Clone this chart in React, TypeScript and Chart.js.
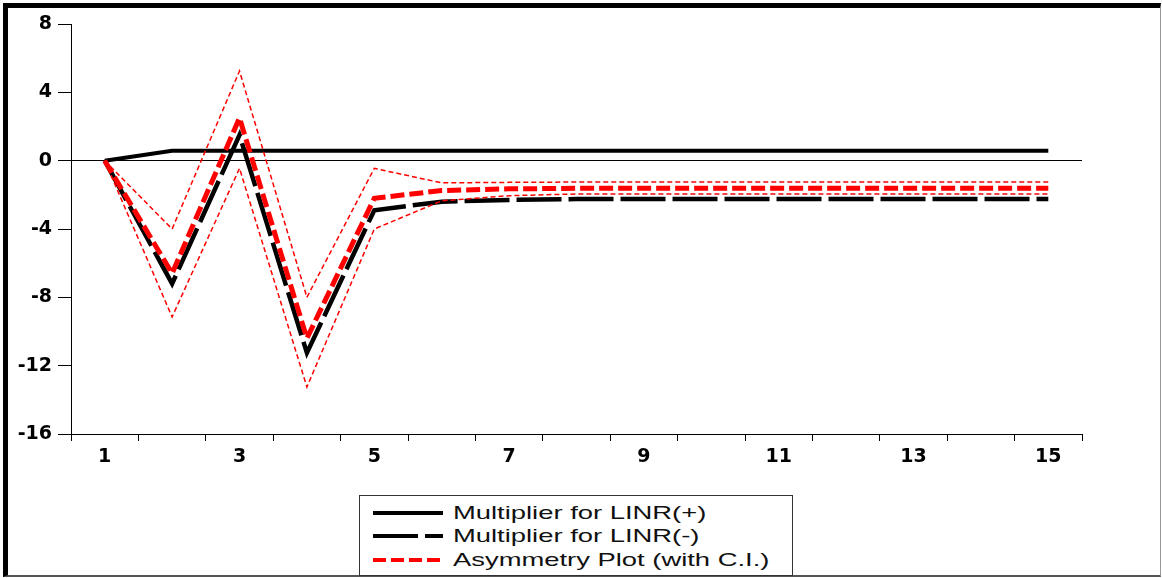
import React, { useEffect, useRef } from "react";
import { Chart, registerables } from "chart.js";

Chart.register(...registerables);

const periods = ["1", "2", "3", "4", "5", "6", "7", "8", "9", "10", "11", "12", "13", "14", "15"];
const multiplierPos = [0, 0.58, 0.58, 0.58, 0.58, 0.58, 0.58, 0.58, 0.58, 0.58, 0.58, 0.58, 0.58, 0.58, 0.58];
const multiplierNeg = [0, -7.2, 1.5, -11.25, -2.9, -2.4, -2.3, -2.25, -2.25, -2.25, -2.25, -2.25, -2.25, -2.25, -2.25];
const asymmetry = [0, -6.6, 2.5, -10.4, -2.2, -1.75, -1.65, -1.62, -1.62, -1.62, -1.62, -1.62, -1.62, -1.62, -1.62];
const upperCI = [0, -4.0, 5.25, -8.0, -0.45, -1.3, -1.27, -1.25, -1.25, -1.25, -1.25, -1.25, -1.25, -1.25, -1.25];
const lowerCI = [0, -9.15, -0.45, -13.25, -4.0, -2.35, -2.05, -1.95, -1.95, -1.95, -1.95, -1.95, -1.95, -1.95, -1.95];
const yMin = -16;
const yMax = 8;
const yStep = 4;

const legendItems = [
  { label: "Multiplier for LINR(+)", color: "#000", dash: "", width: 4 },
  { label: "Multiplier for LINR(-)", color: "#000", dash: "45 7", width: 4 },
  { label: "Asymmetry Plot (with C.I.)", color: "#ff0000", dash: "13 5", width: 4 },
];

export default function App() {
  const canvasRef = useRef<HTMLCanvasElement | null>(null);

  useEffect(() => {
    const canvas = canvasRef.current;
    if (!canvas) return;
    const tickFont = { family: "DejaVu Sans", weight: "bold" as const, size: 19 };
    const chart = new Chart(canvas, {
      type: "line",
      data: {
        labels: periods,
        datasets: [
          {
            label: "Asymmetry Plot (with C.I.)",
            data: asymmetry,
            borderColor: "#ff0000",
            borderWidth: 5,
            borderDash: [14, 5],
            pointRadius: 0,
            tension: 0,
            order: 0,
          },
          {
            label: "Upper C.I.",
            data: upperCI,
            borderColor: "#ff0000",
            borderWidth: 1.5,
            borderDash: [5, 3],
            pointRadius: 0,
            tension: 0,
            order: 1,
          },
          {
            label: "Lower C.I.",
            data: lowerCI,
            borderColor: "#ff0000",
            borderWidth: 1.5,
            borderDash: [5, 3],
            pointRadius: 0,
            tension: 0,
            order: 1,
          },
          {
            label: "Multiplier for LINR(+)",
            data: multiplierPos,
            borderColor: "#000",
            borderWidth: 4,
            pointRadius: 0,
            tension: 0,
            order: 2,
          },
          {
            label: "Multiplier for LINR(-)",
            data: multiplierNeg,
            borderColor: "#000",
            borderWidth: 4.5,
            borderDash: [45, 7],
            pointRadius: 0,
            tension: 0,
            order: 2,
          },
        ],
      },
      options: {
        animation: false,
        responsive: false,
        devicePixelRatio: 1,
        layout: { padding: { top: 24, right: 80, left: 0, bottom: 0 } },
        plugins: {
          legend: { display: false },
          tooltip: { enabled: false },
        },
        elements: { line: { borderJoinStyle: "miter" } },
        scales: {
          x: {
            type: "category",
            offset: true,
            grid: {
              offset: true,
              drawOnChartArea: false,
              tickLength: 7,
              tickColor: "#000",
              tickWidth: 1,
            },
            border: { display: true, color: "#000", width: 1 },
            ticks: {
              autoSkip: false,
              maxRotation: 0,
              minRotation: 0,
              padding: 5,
              color: "#000",
              font: tickFont,
              callback: (_v: any, i: number) => (i % 2 === 0 ? periods[i] : ""),
            },
            afterFit: (s: any) => {
              s.height = 144;
            },
          },
          y: {
            min: yMin,
            max: yMax,
            ticks: {
              stepSize: yStep,
              padding: 6,
              color: "#000",
              font: tickFont,
            },
            grid: {
              color: (ctx: any) => (ctx.tick && ctx.tick.value === 0 ? "#000" : "rgba(0,0,0,0)"),
              lineWidth: 1,
              tickColor: "#000",
              tickLength: 13,
            },
            border: { display: true, color: "#000", width: 1 },
            afterFit: (s: any) => {
              s.width = 71;
            },
          },
        },
      },
    });
    return () => chart.destroy();
  }, []);

  return (
    <div style={{ position: "fixed", left: 0, top: 0, width: 1162, height: 578, background: "#fff", overflow: "hidden" }}>
      <div
        style={{
          position: "absolute",
          left: 3,
          top: 3,
          width: 1158,
          height: 574,
          boxSizing: "border-box",
          borderTop: "5px solid #000",
          borderLeft: "5px solid #000",
          borderRight: "1px solid #999",
          borderBottom: "2px solid #555",
        }}
      />
      <canvas ref={canvasRef} width={1162} height={578} style={{ position: "absolute", left: 0, top: 0, width: 1162, height: 578 }} />
      <div
        style={{
          position: "absolute",
          left: 359,
          top: 495,
          width: 434,
          height: 81,
          boxSizing: "border-box",
          border: "1px solid #333",
          background: "#fff",
        }}
      >
        {legendItems.map((it, i) => (
          <div key={i} style={{ position: "absolute", left: 0, top: 5 + i * 23.3, height: 23, width: 432 }}>
            <svg width={72} height={23} style={{ position: "absolute", left: 13, top: 0 }}>
              <line x1={0} y1={12} x2={70} y2={12} stroke={it.color} strokeWidth={it.width} strokeDasharray={it.dash || undefined} />
            </svg>
            <span
              style={{
                position: "absolute",
                left: 93,
                top: 0,
                fontFamily: "'Liberation Sans', Arial, sans-serif",
                fontSize: 18.5,
                lineHeight: "23px",
                color: "#111",
                whiteSpace: "nowrap",
                transform: "scaleX(1.48)",
                transformOrigin: "left center",
              }}
            >
              {it.label}
            </span>
          </div>
        ))}
      </div>
    </div>
  );
}
